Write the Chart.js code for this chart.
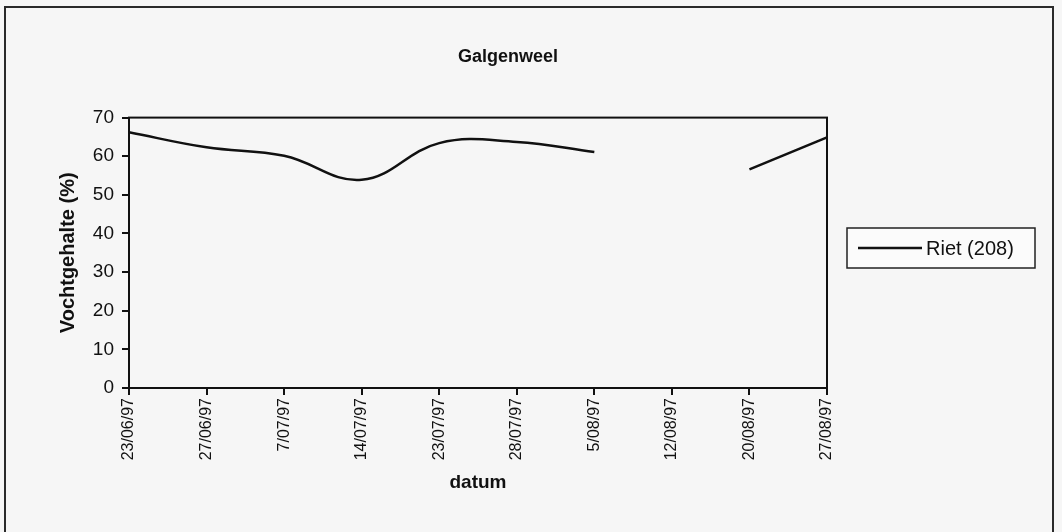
<!DOCTYPE html>
<html>
<head>
<meta charset="utf-8">
<title>Galgenweel</title>
<script src="https://cdn.jsdelivr.net/npm/chart.js@4/dist/chart.umd.min.js"></script>
<style>
  html, body { margin: 0; padding: 0; background: #f6f6f6; }
  #wrap { width: 1062px; height: 532px; position: relative; }
</style>
</head>
<body>
<div id="wrap"><canvas id="c" width="1062" height="532"></canvas></div>
<script>
// Sampling dates and moisture content for the reed plot (208)
const datums = ['23/06/97', '27/06/97', '7/07/97', '14/07/97', '23/07/97',
                '28/07/97', '5/08/97', '12/08/97', '20/08/97', '27/08/97'];
const rietVocht = [66.2, 62.3, 60.1, 53.9, 63.4, 63.7, 61.1, null, 56.6, 64.9];
const yTicks = [0, 10, 20, 30, 40, 50, 60, 70];

const FONT = '"Liberation Sans", Arial, sans-serif';

// Frame around the plot area and around the whole figure, plus the boxed legend
const decor = {
  id: 'decor',
  afterLayout(chart) {
    // centre the title over the full figure
    const t = chart.titleBlock;
    if (t) { t.left = 0; t.right = 1016; t.width = 1016; }
  },
  beforeDraw(chart) {
    const ctx = chart.ctx;
    ctx.save();
    ctx.fillStyle = '#f6f6f6';
    ctx.fillRect(0, 0, chart.width, chart.height);
    ctx.restore();
  },
  afterDraw(chart) {
    const ctx = chart.ctx;
    const a = chart.chartArea;
    ctx.save();
    // plot frame
    ctx.strokeStyle = '#111';
    ctx.lineWidth = 2;
    ctx.strokeRect(a.left, a.top, a.right - a.left, a.bottom - a.top);
    // outer figure frame
    ctx.strokeStyle = '#2a2a2a';
    ctx.lineWidth = 2;
    ctx.strokeRect(5, 7, 1048, 540);
    // legend
    const ds = chart.data.datasets[0];
    const lx = 847, ly = 228, lw = 188, lh = 40;
    ctx.fillStyle = '#fbfbfb';
    ctx.fillRect(lx, ly, lw, lh);
    ctx.strokeStyle = '#222';
    ctx.lineWidth = 1.5;
    ctx.strokeRect(lx, ly, lw, lh);
    ctx.strokeStyle = ds.borderColor;
    ctx.lineWidth = ds.borderWidth;
    ctx.beginPath();
    ctx.moveTo(858, ly + lh / 2);
    ctx.lineTo(922, ly + lh / 2);
    ctx.stroke();
    ctx.fillStyle = '#111';
    ctx.font = '20px ' + FONT;
    ctx.textBaseline = 'middle';
    ctx.fillText(ds.label, 926, ly + lh / 2 + 1);
    ctx.restore();
  }
};

new Chart(document.getElementById('c'), {
  type: 'line',
  data: {
    labels: datums,
    datasets: [{
      label: 'Riet (208)',
      data: rietVocht,
      borderColor: '#111',
      borderWidth: 2.5,
      pointRadius: 0,
      tension: 0.4,
      spanGaps: false,
      fill: false
    }]
  },
  options: {
    responsive: false,
    animation: false,
    devicePixelRatio: 1,
    layout: { padding: { left: 55, right: 235, top: 20, bottom: 30 } },
    plugins: {
      legend: { display: false },
      tooltip: { enabled: false },
      title: {
        display: true,
        text: 'Galgenweel',
        color: '#111',
        font: { family: FONT, size: 18, weight: 'bold' },
        padding: { top: 26, bottom: 50 }
      }
    },
    scales: {
      x: {
        type: 'category',
        offset: false,
        border: { display: true, color: '#111', width: 2 },
        grid: { display: true, drawOnChartArea: false, drawTicks: true, tickLength: 7, color: '#111', lineWidth: 2 },
        ticks: {
          autoSkip: false,
          maxRotation: 90, minRotation: 90,
          color: '#111',
          padding: 3,
          font: { family: FONT, size: 16 }
        },
        title: {
          display: true,
          text: 'datum',
          color: '#111',
          font: { family: FONT, size: 19, weight: 'bold' },
          padding: { top: 0, bottom: 8 }
        },
        afterFit(scale) { scale.height = 532 - 388 - 30; }
      },
      y: {
        min: 0, max: 70,
        afterBuildTicks(scale) { scale.ticks = yTicks.map(v => ({ value: v })); },
        border: { display: true, color: '#111', width: 2 },
        grid: { display: true, drawOnChartArea: false, drawTicks: true, tickLength: 7, color: '#111', lineWidth: 2 },
        ticks: {
          color: '#111',
          padding: 8,
          font: { family: FONT, size: 19 }
        },
        title: {
          display: true,
          text: 'Vochtgehalte (%)',
          color: '#111',
          font: { family: FONT, size: 20, weight: 'bold' },
          padding: { top: 1, bottom: 0 }
        },
        afterFit(scale) { scale.width = 129 - 55; }
      }
    }
  },
  plugins: [decor]
});
</script>
</body>
</html>
